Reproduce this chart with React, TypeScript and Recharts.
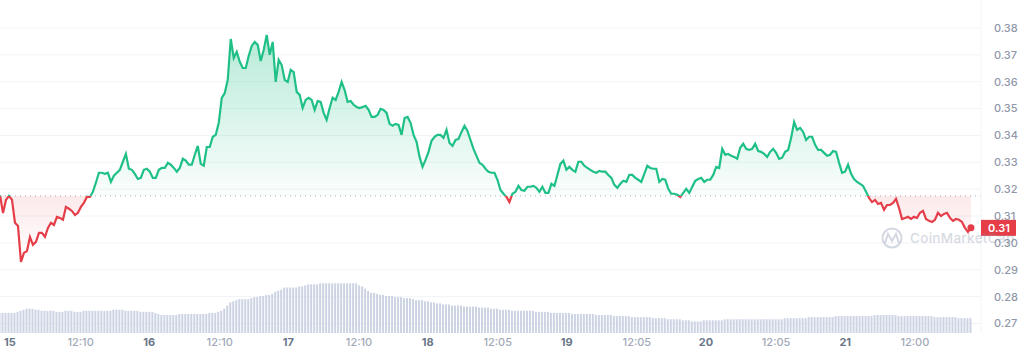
import {
  Area,
  Bar,
  CartesianGrid,
  ComposedChart,
  ReferenceDot,
  ReferenceLine,
  XAxis,
  YAxis,
} from "recharts";

const GREEN = "#1fc086";
const RED = "#e53e48";

// one sample every 31 minutes, hours counted from the 15th at 00:00
const startHour = -1.724;
const stepHours = 31 / 60;
const endHour = 167.41;
const openPrice = 0.3175;

const prices = [
  0.3178, 0.3111, 0.316, 0.3175, 0.316, 0.3075, 0.3063, 0.2929, 0.2963, 0.297,
  0.3022, 0.2993, 0.3004, 0.3037, 0.3037, 0.3022, 0.3056, 0.3075, 0.3067, 0.3097,
  0.3093, 0.3086, 0.3134, 0.3127, 0.3119, 0.3104, 0.3112, 0.3134, 0.3149, 0.3171,
  0.3171, 0.319, 0.3224, 0.3261, 0.3261, 0.3257, 0.3261, 0.3227, 0.325, 0.3261,
  0.3272, 0.3302, 0.3331, 0.3276, 0.3272, 0.3257, 0.3238, 0.3242, 0.3272, 0.3276,
  0.3265, 0.3242, 0.3242, 0.3272, 0.3279, 0.3279, 0.3298, 0.3291, 0.3279, 0.3265,
  0.3279, 0.3313, 0.3306, 0.3291, 0.3291, 0.3328, 0.3361, 0.3294, 0.3287, 0.3357,
  0.3357, 0.3395, 0.3402, 0.3447, 0.354, 0.3558, 0.3607, 0.3759, 0.3688, 0.3711,
  0.3674, 0.3651, 0.3651, 0.3696, 0.3733, 0.3748, 0.3737, 0.3677, 0.3718, 0.3774,
  0.37, 0.3748, 0.3599, 0.3681, 0.3662, 0.3607, 0.3599, 0.3644, 0.3636, 0.3562,
  0.3551, 0.3502, 0.3532, 0.354, 0.3532, 0.3495, 0.3528, 0.3525, 0.3484, 0.3458,
  0.3502, 0.354, 0.3532, 0.3562, 0.3599, 0.3569, 0.3525, 0.3528, 0.3514, 0.3506,
  0.3502, 0.3506, 0.351, 0.3495, 0.3469, 0.3469, 0.3476, 0.3499, 0.3495, 0.3484,
  0.3443, 0.3436, 0.3443, 0.3439, 0.3402, 0.3465, 0.3469, 0.3447, 0.3402, 0.3376,
  0.332, 0.3283, 0.3309, 0.3339, 0.338, 0.3395, 0.3402, 0.3402, 0.3391, 0.3421,
  0.3372, 0.3361, 0.3383, 0.3387, 0.3413, 0.3436, 0.3417, 0.3383, 0.335, 0.3324,
  0.3298, 0.3291, 0.3276, 0.3265, 0.3261, 0.3261, 0.3235, 0.3197, 0.3183, 0.3171,
  0.3152, 0.3183, 0.319, 0.3212, 0.3197, 0.3194, 0.3209, 0.3209, 0.3212, 0.3205,
  0.319, 0.3209, 0.3186, 0.3186, 0.322, 0.3212, 0.3253, 0.3294, 0.3306, 0.3272,
  0.3283, 0.3272, 0.3265, 0.3302, 0.3302, 0.3287, 0.3279, 0.3272, 0.3265, 0.3261,
  0.3268, 0.3265, 0.3265, 0.3253, 0.3242, 0.3216, 0.3205, 0.322, 0.3231, 0.3227,
  0.3253, 0.3253, 0.3242, 0.3235, 0.3227, 0.3257, 0.3287, 0.3279, 0.3276, 0.3276,
  0.3227, 0.3238, 0.3235, 0.3201, 0.3183, 0.3183, 0.3179, 0.3171, 0.3186, 0.3201,
  0.3186, 0.3209, 0.3231, 0.3238, 0.3242, 0.3227, 0.3235, 0.3235, 0.3253, 0.3283,
  0.3279, 0.335, 0.3328, 0.3331, 0.3324, 0.332, 0.3313, 0.3354, 0.3369, 0.335,
  0.3346, 0.335, 0.3369, 0.3342, 0.3339, 0.3331, 0.332, 0.3339, 0.335, 0.3335,
  0.3313, 0.3317, 0.3339, 0.3346, 0.3391, 0.345, 0.3421, 0.3428, 0.3413, 0.3383,
  0.3395, 0.3395, 0.3365, 0.3346, 0.3346, 0.3335, 0.3324, 0.3328, 0.3342, 0.3339,
  0.3298, 0.3261, 0.3265, 0.3291, 0.3257, 0.3238, 0.3227, 0.322, 0.3212, 0.319,
  0.3167, 0.3152, 0.316, 0.3145, 0.3149, 0.3123, 0.3141, 0.3141, 0.3149, 0.3164,
  0.313, 0.3089, 0.3093, 0.3097, 0.3089, 0.3097, 0.3093, 0.3112, 0.3119, 0.3089,
  0.3082, 0.3078, 0.3086, 0.3112, 0.31, 0.3108, 0.3112, 0.3093, 0.3082, 0.3089,
  0.3086, 0.3078, 0.3056, 0.3041, 0.3056,
];

const volumes = [
  19, 19, 19, 19, 19, 19, 20, 21, 22, 23, 23, 23, 22, 22, 21, 21, 21, 21, 21, 20,
  20, 20, 21, 21, 21, 20, 20, 20, 21, 21, 21, 21, 21, 21, 21, 21, 21, 21, 22, 22,
  22, 22, 21, 21, 21, 21, 21, 20, 20, 20, 20, 20, 19, 18, 17, 17, 17, 17, 17, 17,
  18, 18, 18, 18, 18, 18, 18, 18, 18, 18, 19, 19, 19, 20, 21, 23, 26, 29, 30, 31,
  32, 32, 32, 32, 33, 34, 34, 35, 35, 36, 36, 37, 39, 40, 41, 43, 43, 43, 43, 43,
  44, 44, 45, 46, 46, 46, 46, 47, 47, 47, 47, 47, 47, 47, 47, 47, 47, 47, 47, 47,
  45, 44, 42, 40, 38, 38, 37, 36, 36, 35, 35, 35, 34, 34, 34, 33, 33, 33, 32, 31,
  31, 31, 30, 30, 29, 29, 28, 28, 27, 27, 27, 26, 26, 26, 26, 25, 25, 25, 25, 25,
  24, 24, 24, 24, 23, 23, 23, 22, 22, 22, 22, 21, 21, 21, 21, 21, 21, 21, 21, 20,
  20, 20, 20, 20, 19, 19, 19, 19, 19, 19, 19, 18, 18, 18, 18, 18, 18, 18, 18, 17,
  17, 17, 17, 17, 17, 16, 16, 16, 16, 16, 16, 15, 15, 15, 15, 15, 15, 15, 14, 14,
  14, 14, 14, 13, 13, 13, 13, 13, 12, 12, 12, 11, 11, 11, 11, 12, 12, 12, 12, 12,
  12, 12, 13, 13, 13, 13, 13, 13, 13, 13, 13, 13, 13, 13, 13, 13, 13, 13, 13, 13,
  13, 13, 14, 14, 14, 14, 14, 14, 14, 14, 15, 15, 15, 15, 15, 15, 15, 15, 15, 16,
  16, 16, 16, 16, 16, 16, 16, 16, 16, 16, 16, 16, 17, 17, 17, 17, 17, 17, 17, 17,
  16, 16, 16, 16, 16, 16, 16, 16, 16, 16, 16, 16, 15, 15, 15, 15, 15, 15, 15, 15,
  14, 14, 14, 14, 14,
];

const priceTicks = [0.27, 0.28, 0.29, 0.3, 0.31, 0.32, 0.33, 0.34, 0.35, 0.36, 0.37, 0.38];

const timeTicks = [0, 12.17, 24, 36.17, 48, 60.17, 72, 84.08, 96, 108.08, 120, 132.08, 144, 156];
const timeLabels = ["15", "12:10", "16", "12:10", "17", "12:10", "18", "12:05", "19", "12:05", "20", "12:05", "21", "12:00"];

const rows = prices.map((price, i) => ({
  t: startHour + i * stepHours,
  price,
  volume: volumes[i],
}));

const lastRow = rows[rows.length - 1];
const maxPrice = Math.max(...prices);
const minPrice = Math.min(...prices);
// where the open price sits inside the line's bounding box
const splitAt = (maxPrice - openPrice) / (maxPrice - minPrice);

function TimeTick({ x, y, payload }: any) {
  const label = timeLabels[timeTicks.indexOf(payload.value)];
  const isDay = !label.includes(":");
  return (
    <text
      x={x}
      y={y + 5}
      textAnchor="middle"
      fontFamily="Inter"
      fontSize={11}
      fontWeight={isDay ? 700 : 500}
      fill={isDay ? "#6b7688" : "#a1a9b8"}
    >
      {label}
    </text>
  );
}

function LastPriceTag({ cx, cy }: any) {
  return (
    <g>
      <rect x={cx} y={cy - 8} width={35} height={16} fill={RED} />
      <text x={cx + 18} y={cy + 4} textAnchor="middle" fontFamily="Inter" fontSize={11} fontWeight={600} fill="#fff">
        {lastRow.price.toFixed(2)}
      </text>
    </g>
  );
}

function Watermark() {
  return (
    <svg width={1018} height={356} style={{ position: "absolute", left: 0, top: 0, pointerEvents: "none" }}>
      <circle cx={892} cy={238} r={9.5} fill="none" stroke="#c3cad6" strokeWidth={2} opacity={0.75} />
      <path d="M885 243 L888 234 L892 241 L896 234 L899 243" fill="none" stroke="#c3cad6" strokeWidth={2} opacity={0.75} />
      <text x={910} y={243} fontFamily="Inter" fontSize={13.5} fontWeight={500} letterSpacing={0.3} fill="#808a9d" opacity={0.3}>
        CoinMarketCap
      </text>
    </svg>
  );
}

export default function App() {
  return (
    <div style={{ position: "absolute", left: 0, top: 0, width: 1018, height: 356, background: "#fff", overflow: "hidden" }}>
      <ComposedChart width={1018} height={356} data={rows} margin={{ top: 0, right: 0, bottom: 0, left: 0 }}>
        <defs>
          <linearGradient id="lineSplit" x1="0" y1="0" x2="0" y2="1">
            <stop offset={splitAt} stopColor={GREEN} />
            <stop offset={splitAt} stopColor={RED} />
          </linearGradient>
          <linearGradient id="fillSplit" x1="0" y1="0" x2="0" y2="1">
            <stop offset={0} stopColor={GREEN} stopOpacity={0.32} />
            <stop offset={splitAt} stopColor={GREEN} stopOpacity={0.02} />
            <stop offset={splitAt} stopColor={RED} stopOpacity={0.11} />
            <stop offset={1} stopColor={RED} stopOpacity={0} />
          </linearGradient>
        </defs>
        <CartesianGrid yAxisId="price" vertical={false} stroke="#f1f3f6" horizontalValues={priceTicks} />
        <XAxis
          dataKey="t"
          type="number"
          domain={[startHour, endHour]}
          ticks={timeTicks}
          interval={0}
          height={23}
          axisLine={false}
          tickLine={false}
          tick={<TimeTick />}
        />
        <YAxis
          yAxisId="price"
          orientation="right"
          width={37}
          domain={[0.26647, 0.3904]}
          ticks={priceTicks}
          interval={0}
          allowDataOverflow
          tickFormatter={(v: number) => v.toFixed(2)}
          tick={{ fontFamily: "Inter", fontSize: 11, fontWeight: 500, fill: "#8f98a9" }}
          tickLine={false}
          tickMargin={7}
          axisLine={{ stroke: "#f1f3f6" }}
        />
        <YAxis yAxisId="volume" hide domain={[0, 315]} />
        <Bar yAxisId="volume" dataKey="volume" barSize={2} fill="#ccd3e3" isAnimationActive={false} />
        <ReferenceLine yAxisId="price" y={openPrice} stroke="#a3abb9" strokeWidth={1} strokeDasharray="1 4" />
        <Area
          yAxisId="price"
          type="linear"
          dataKey="price"
          baseValue={openPrice}
          stroke="url(#lineSplit)"
          strokeWidth={2.2}
          fill="url(#fillSplit)"
          fillOpacity={1}
          dot={false}
          activeDot={false}
          isAnimationActive={false}
        />
        <ReferenceDot yAxisId="price" x={lastRow.t} y={lastRow.price} r={3.5} fill={RED} stroke="none" />
        <ReferenceDot yAxisId="price" x={endHour} y={lastRow.price} ifOverflow="visible" shape={<LastPriceTag />} />
      </ComposedChart>
      <Watermark />
    </div>
  );
}
